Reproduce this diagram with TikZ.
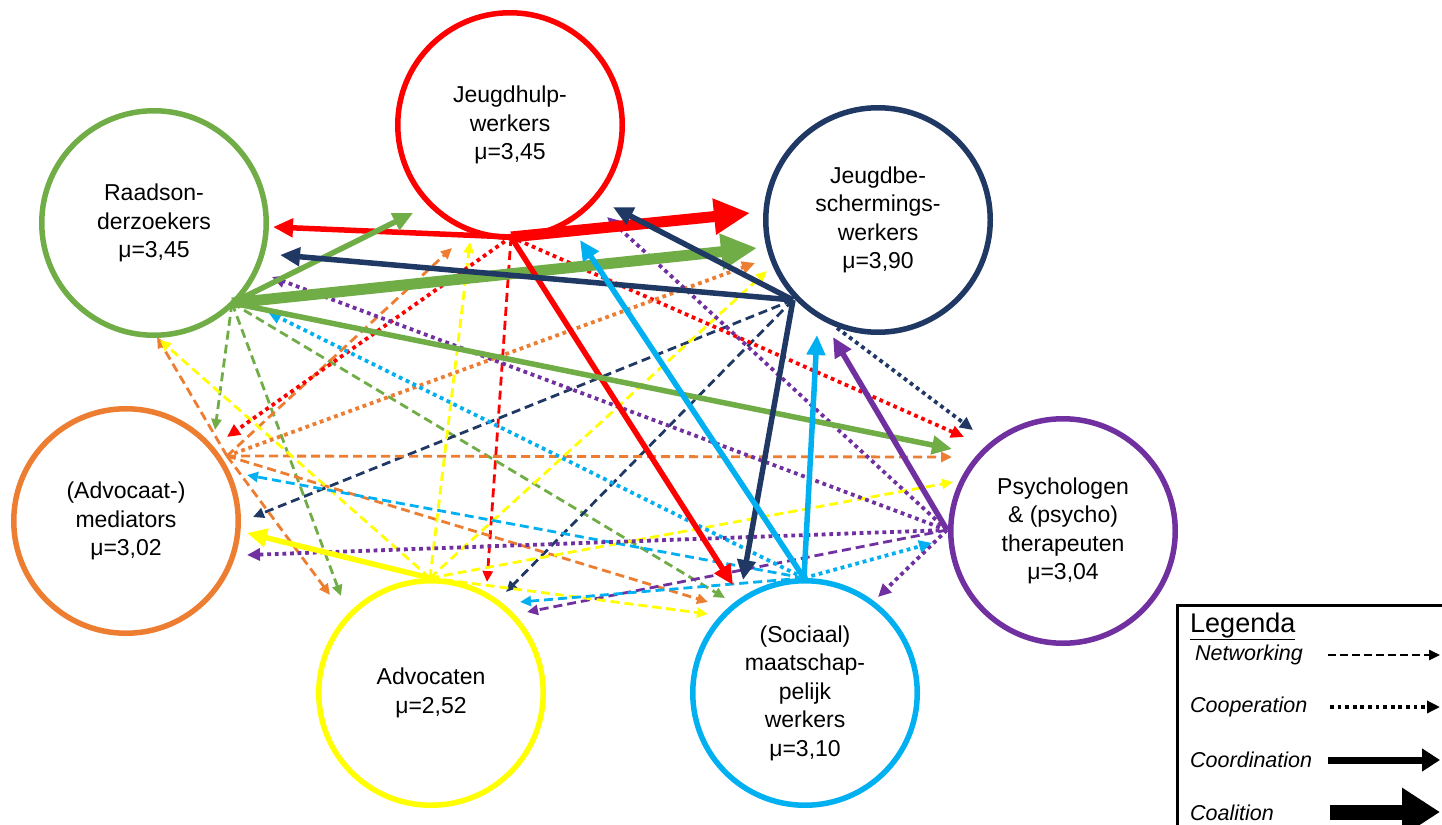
\documentclass[tikz,border=0pt]{standalone}
\usepackage{fontspec}
\setmainfont{Liberation Sans}
\usetikzlibrary{arrows.meta}

\definecolor{cRed}{HTML}{FF0000}
\definecolor{cGreen}{HTML}{70AD47}
\definecolor{cNavy}{HTML}{203864}
\definecolor{cOrange}{HTML}{ED7D31}
\definecolor{cPurple}{HTML}{7030A0}
\definecolor{cYellow}{HTML}{FFFF00}
\definecolor{cCyan}{HTML}{00B0F0}

\tikzset{
  actor/.style={circle, draw=#1, line width=5.5pt, minimum size=224.5pt, inner sep=0pt,
    align=center, font=\fontsize{23}{28.5}\selectfont},
  netw/.style={draw=#1, line width=2.8pt, dash pattern=on 9pt off 5pt,
    -{Triangle[length=11pt,width=10pt]}},
  coop/.style={draw=#1, line width=3.8pt, dash pattern=on 3.8pt off 3.8pt,
    -{Triangle[length=13pt,width=12pt]}},
  coord/.style={draw=#1, line width=5.5pt, -{Triangle[length=20pt,width=18pt]}},
  coal/.style={draw=#1, line width=11pt, -{Triangle[length=36pt,width=34pt]}},
  legtext/.style={anchor=west, inner sep=0pt, font=\fontsize{21.5}{25}\selectfont\itshape},
}

\begin{document}
\begin{tikzpicture}[x=1pt, y=-1pt]
\useasboundingbox (0,0) rectangle (1442,824);
\fill[white] (0,0) rectangle (1442,824);

% ---- actors ----
\node[actor=cRed]    (jh) at (510,125) {Jeugdhulp-\\werkers\\μ=3,45};
\node[actor=cGreen]  (rd) at (154,223) {Raadson-\\derzoekers\\μ=3,45};
\node[actor=cNavy]   (jb) at (878,220) {Jeugdbe-\\schermings-\\werkers\\μ=3,90};
\node[actor=cOrange] (md) at (126,521) {(Advocaat-)\\mediators\\μ=3,02};
\node[actor=cPurple] (ps) at (1063,531) {Psychologen\\\& (psycho)\\therapeuten\\μ=3,04};
\node[actor=cYellow] (ad) at (431,693) {Advocaten\\μ=2,52};
\node[actor=cCyan]   (mw) at (805,693) {(Sociaal)\\maatschap-\\pelijk\\werkers\\μ=3,10};

% ---- points on each circle where its outgoing ties start ----
\coordinate (jh-h) at (511,237);
\coordinate (rd-h) at (232,303);
\coordinate (jb-h) at (793,300);
\coordinate (jb-h2) at (837,328);
\coordinate (md-h) at (227,456);
\coordinate (ps-h) at (947,530);
\coordinate (ad-h) at (430,578);
\coordinate (mw-h) at (804,578);

% ---- arrow end points ----
% from Jeugdhulpwerkers
\coordinate (jh-rd) at (273,227);
\coordinate (jh-jb) at (750,213);
\coordinate (jh-mw) at (733,585);
\coordinate (jh-md) at (227,437);
\coordinate (jh-ad) at (487,582);
\coordinate (jh-ps) at (964,437);
% from Raadsonderzoekers
\coordinate (rd-jh) at (413,213);
\coordinate (rd-jb) at (757,248);
\coordinate (rd-ps) at (952,449);
\coordinate (rd-md) at (215,430);
\coordinate (rd-ad) at (341,596);
\coordinate (rd-mw) at (725,598);
% from Jeugdbeschermingswerkers
\coordinate (jb-jh) at (613,207);
\coordinate (jb-rd) at (280,255);
\coordinate (jb-mw) at (743,580);
\coordinate (jb-md) at (253,517);
\coordinate (jb-ad) at (506,592);
\coordinate (jb-ps) at (973,430);
% from mediators
\coordinate (md-rd) at (157,337);
\coordinate (md-jh) at (452,248);
\coordinate (md-jb) at (755,263);
\coordinate (md-ps) at (952,457);
\coordinate (md-ad) at (330,595);
\coordinate (md-mw) at (708,602);
% from psychologen
\coordinate (ps-jb) at (833,337);
\coordinate (ps-jh) at (607,217);
\coordinate (ps-rd) at (272,277);
\coordinate (ps-md) at (247,555);
\coordinate (ps-ad) at (527,612);
\coordinate (ps-mw) at (878,597);
% from advocaten
\coordinate (ad-md) at (247,533);
\coordinate (ad-rd) at (160,340);
\coordinate (ad-jh) at (470,242);
\coordinate (ad-jb) at (767,271);
\coordinate (ad-ps) at (953,482);
\coordinate (ad-mw) at (708,614);
% from maatschappelijk werkers
\coordinate (mw-jh) at (580,240);
\coordinate (mw-jb) at (817,335);
\coordinate (mw-rd) at (268,312);
\coordinate (mw-md) at (247,475);
\coordinate (mw-ad) at (520,602);
\coordinate (mw-ps) at (932,543);

% ---- networking ----
\draw[netw=cRed]    (jh-h) -- (jh-ad);
\draw[netw=cGreen]  (rd-h) -- (rd-md);
\draw[netw=cGreen]  (rd-h) -- (rd-ad);
\draw[netw=cGreen]  (rd-h) -- (rd-mw);
\draw[netw=cNavy]   (jb-h) -- (jb-md);
\draw[netw=cNavy]   (jb-h) -- (jb-ad);
\draw[netw=cOrange] (md-h) -- (md-rd);
\draw[netw=cOrange] (md-h) -- (md-jh);
\draw[netw=cOrange] (md-h) -- (md-ps);
\draw[netw=cOrange] (md-h) -- (md-ad);
\draw[netw=cOrange] (md-h) -- (md-mw);
\draw[netw=cPurple] (ps-h) -- (ps-ad);
\draw[netw=cYellow] (ad-h) -- (ad-rd);
\draw[netw=cYellow] (ad-h) -- (ad-jh);
\draw[netw=cYellow] (ad-h) -- (ad-jb);
\draw[netw=cYellow] (ad-h) -- (ad-ps);
\draw[netw=cYellow] (ad-h) -- (ad-mw);
\draw[netw=cCyan]   (mw-h) -- (mw-md);
\draw[netw=cCyan]   (mw-h) -- (mw-ad);

% ---- cooperation ----
\draw[coop=cRed]    (jh-h) -- (jh-md);
\draw[coop=cRed]    (jh-h) -- (jh-ps);
\draw[coop=cNavy]   (jb-h2) -- (jb-ps);
\draw[coop=cOrange] (md-h) -- (md-jb);
\draw[coop=cPurple] (ps-h) -- (ps-jh);
\draw[coop=cPurple] (ps-h) -- (ps-rd);
\draw[coop=cPurple] (ps-h) -- (ps-md);
\draw[coop=cPurple] (ps-h) -- (ps-mw);
\draw[coop=cCyan]   (mw-h) -- (mw-rd);
\draw[coop=cCyan]   (mw-h) -- (mw-ps);

% ---- coalition ----
\draw[coal=cGreen]  (rd-h) -- (rd-jb);
\draw[coal=cRed]    (jh-h) -- (jh-jb);

% ---- coordination ----
\draw[coord=cRed]    (jh-h) -- (jh-rd);
\draw[coord=cRed]    (jh-h) -- (jh-mw);
\draw[coord=cGreen]  (rd-h) -- (rd-jh);
\draw[coord=cGreen]  (rd-h) -- (rd-ps);
\draw[coord=cNavy]   (jb-h) -- (jb-jh);
\draw[coord=cNavy]   (jb-h) -- (jb-rd);
\draw[coord=cNavy]   (jb-h) -- (jb-mw);
\draw[coord=cPurple] (ps-h) -- (ps-jb);
\draw[coord=cYellow] (ad-h) -- (ad-md);
\draw[coord=cCyan]   (mw-h) -- (mw-jh);
\draw[coord=cCyan]   (mw-h) -- (mw-jb);

% ---- legend ----
\draw[line width=3pt] (1450,605) -| (1177,830);
\node[anchor=base west, inner sep=0pt, font=\fontsize{27}{30}\selectfont] (lg) at (1190,632) {\underline{Legenda}};
\node[legtext] (lg-net)  at (1195,655) {Networking};
\node[legtext] (lg-coop) at (1190,707) {Cooperation};
\node[legtext] (lg-crd)  at (1190,760) {Coordination};
\node[legtext] (lg-coal) at (1190,813) {Coalition};
\coordinate (ln-a) at (1328,655); \coordinate (ln-b) at (1440,655);
\coordinate (lc-a) at (1330,707); \coordinate (lc-b) at (1440,707);
\coordinate (ld-a) at (1328,760); \coordinate (ld-b) at (1440,760);
\coordinate (ll-a) at (1330,812); \coordinate (ll-b) at (1440,812);
\draw[netw=black, line width=2.4pt, dash pattern=on 8pt off 4pt] (ln-a) -- (ln-b);
\draw[coop=black, line width=3.6pt] (lc-a) -- (lc-b);
\draw[draw=black, line width=7pt, -{Triangle[length=18pt,width=22pt]}] (ld-a) -- (ld-b);
\draw[draw=black, line width=15pt, -{Triangle[length=38pt,width=46pt]}] (ll-a) -- (ll-b);
\end{tikzpicture}
\end{document}
